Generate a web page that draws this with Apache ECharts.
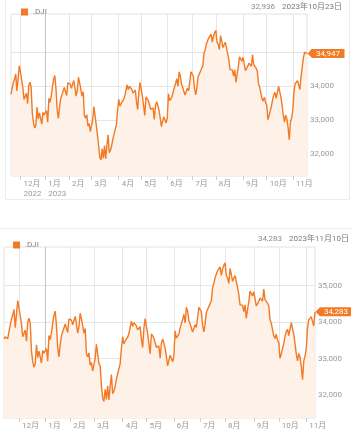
<!DOCTYPE html>
<html>
<head>
<meta charset="utf-8">
<script src="https://cdn.jsdelivr.net/npm/echarts@6/dist/echarts.min.js"></script>
<style>
  html, body { margin: 0; padding: 0; background: #fff; }
  #chart { width: 351px; height: 432px; }
</style>
</head>
<body>
<div id="chart"></div>
<script>
// .DJI 日足終値 [日, 終値]
const nov22 = [[14, 33537], [15, 33593], [16, 33554], [17, 33546], [18, 33746], [21, 33700], [22, 34098], [23, 34194], [25, 34347], [28, 33849], [29, 33853], [30, 34590]]
const dec22 = [[1, 34395], [2, 34430], [5, 33947], [6, 33597], [7, 33598], [8, 33781], [9, 33476], [12, 34005], [13, 34108], [14, 33966], [15, 33203], [16, 32920], [19, 32757], [20, 32850], [21, 33377], [22, 33027], [23, 33204], [27, 33241], [28, 32876], [29, 33221], [30, 33147]]
const jan23 = [[3, 33136], [4, 33270], [5, 32930], [6, 33631], [9, 33518], [10, 33704], [11, 33973], [12, 34190], [13, 34303], [17, 33910], [18, 33297], [19, 33045], [20, 33375], [23, 33630], [24, 33734], [25, 33744], [26, 33950], [27, 33978], [30, 33717], [31, 34086]]
const feb23 = [[1, 34093], [2, 34054], [3, 33926], [6, 33891], [7, 34156], [8, 33949], [9, 33699], [10, 33869], [13, 34246], [14, 34089], [15, 34128], [16, 33697], [17, 33827], [21, 33130], [22, 33045], [23, 33154], [24, 32817], [27, 32889], [28, 32657]]
const mar23 = [[1, 32662], [2, 33004], [3, 33391], [6, 33431], [7, 32856], [8, 32798], [9, 32254], [10, 31910], [13, 31820], [14, 32155], [15, 31875], [16, 32247], [17, 31862], [20, 32245], [21, 32561], [22, 32031], [23, 32106], [24, 32238], [27, 32433], [28, 32395], [29, 32718], [30, 32860], [31, 33274]]
const apr23 = [[3, 33601], [4, 33403], [5, 33482], [6, 33485], [10, 33587], [11, 33685], [12, 33647], [13, 34030], [14, 33887], [17, 33987], [18, 33977], [19, 33897], [20, 33787], [21, 33809], [24, 33876], [25, 33531], [26, 33302], [27, 33826], [28, 34098]]
const may23 = [[1, 34052], [2, 33684], [3, 33415], [4, 33128], [5, 33674], [8, 33619], [9, 33562], [10, 33531], [11, 33309], [12, 33301], [15, 33349], [16, 33012], [17, 33421], [18, 33536], [19, 33427], [22, 33287], [23, 33056], [24, 32800], [25, 32765], [26, 33093], [30, 33043], [31, 32908]]
const jun23 = [[1, 33061], [2, 33763], [5, 33563], [6, 33573], [7, 33665], [8, 33834], [9, 33877], [12, 34067], [13, 34212], [14, 33980], [15, 34408], [16, 34299], [20, 34053], [21, 33952], [22, 33947], [23, 33727], [26, 33714], [27, 33927], [28, 33853], [29, 34122], [30, 34408]]
const jul23 = [[3, 34418], [5, 34288], [6, 33922], [7, 33735], [10, 33944], [11, 34262], [12, 34348], [13, 34395], [14, 34509], [17, 34586], [18, 34952], [19, 35061], [20, 35225], [21, 35228], [24, 35411], [25, 35438], [26, 35520], [27, 35283], [28, 35459], [31, 35560]]
const aug23 = [[1, 35630], [2, 35283], [3, 35216], [4, 35066], [7, 35474], [8, 35314], [9, 35123], [10, 35176], [11, 35281], [14, 35308], [15, 34946], [16, 34766], [17, 34475], [18, 34501], [21, 34464], [22, 34288], [23, 34473], [24, 34099], [25, 34347], [28, 34560], [29, 34853], [30, 34891], [31, 34722]]
const sep23 = [[1, 34838], [5, 34642], [6, 34443], [7, 34501], [8, 34577], [11, 34664], [12, 34646], [13, 34576], [14, 34907], [15, 34618], [18, 34625], [19, 34518], [20, 34441], [21, 34070], [22, 33964], [25, 34007], [26, 33619], [27, 33551], [28, 33667], [29, 33508]]
const oct23 = [[2, 33433], [3, 33002], [4, 33130], [5, 33120], [6, 33408], [9, 33605], [10, 33740], [11, 33805], [12, 33631], [13, 33670], [16, 33985], [17, 33998], [18, 33665], [19, 33415], [20, 33128], [23, 32936], [24, 33141], [25, 33036], [26, 32785], [27, 32418], [30, 32929], [31, 33053]]
const nov23 = [[1, 33275], [2, 33840], [3, 34061], [6, 34096], [7, 34153], [8, 34112], [9, 33892], [10, 34283], [13, 34337], [14, 34828], [15, 34991], [16, 34945], [17, 34947]]

const yTicks = [32000, 33000, 34000, 35000]

// 上: 2022/11/18 - 2023/11/17, 下: 2022/11/14 - 2023/11/10
const topRange = ['2022-11-18', '2023-11-17']
const bottomRange = ['2022-11-14', '2023-11-10']
const topHeader = ['32,936', '2023年10月23日']
const bottomHeader = ['34,283', '2023年11月10日']

const ORANGE = '#f27a25'
const FONT = 'Roboto, "Noto Sans CJK JP", sans-serif'

const months = [
  ['2022-11', nov22], ['2022-12', dec22], ['2023-01', jan23], ['2023-02', feb23],
  ['2023-03', mar23], ['2023-04', apr23], ['2023-05', may23], ['2023-06', jun23],
  ['2023-07', jul23], ['2023-08', aug23], ['2023-09', sep23], ['2023-10', oct23],
  ['2023-11', nov23]
]
const allDates = []
const allCloses = []
months.forEach(([ym, rows]) => {
  rows.forEach(([d, v]) => {
    allDates.push(ym + '-' + String(d).padStart(2, '0'))
    allCloses.push(v)
  })
})

function slice (range) {
  const a = allDates.indexOf(range[0])
  const b = allDates.indexOf(range[1])
  return { dates: allDates.slice(a, b + 1), closes: allCloses.slice(a, b + 1) }
}
const topData = slice(topRange)
const bottomData = slice(bottomRange)

function monthStart (dates) {
  return (i) => i > 0 && dates[i].slice(0, 7) !== dates[i - 1].slice(0, 7)
}
function fmt (v) {
  return Number(v).toLocaleString('en-US')
}

function xAxis (gridIndex, dates, withYear) {
  const isStart = monthStart(dates)
  return {
    type: 'category',
    gridIndex,
    data: dates,
    boundaryGap: false,
    axisLine: { show: false },
    axisTick: { show: true, interval: isStart, length: 4, lineStyle: { color: '#cfcfcf' } },
    axisLabel: {
      interval: isStart,
      align: 'left',
      padding: [0, 0, 0, 3],
      margin: 3,
      fontSize: 8,
      lineHeight: 10,
      color: '#9a9a9a',
      fontFamily: FONT,
      formatter: (value) => {
        const m = parseInt(value.slice(5, 7), 10)
        const y = value.slice(0, 4)
        return (withYear && (m === 12 || m === 1)) ? m + '月\n' + y : m + '月'
      }
    },
    splitLine: {
      show: true,
      interval: isStart,
      lineStyle: {
        width: 1,
        color: ['#e6e6e6', '#c4c4c4', '#e6e6e6', '#e6e6e6', '#e6e6e6', '#e6e6e6', '#e6e6e6', '#e6e6e6', '#e6e6e6', '#e6e6e6', '#e6e6e6', '#e6e6e6']
      }
    }
  }
}

function yAxis (gridIndex, min, max) {
  return {
    type: 'value',
    gridIndex,
    position: 'right',
    min,
    max,
    axisLine: { show: false },
    axisTick: { show: false, customValues: yTicks },
    axisLabel: {
      customValues: yTicks,
      margin: 3,
      fontSize: 8,
      color: '#9a9a9a',
      fontFamily: FONT,
      formatter: fmt
    },
    splitLine: { show: true, lineStyle: { color: '#e6e6e6', width: 1 } }
  }
}

function series (idx, data) {
  const last = data.dates.length - 1
  return {
    name: '.DJI',
    type: 'line',
    xAxisIndex: idx,
    yAxisIndex: idx,
    data: data.closes,
    showSymbol: false,
    clip: false,
    lineStyle: { color: ORANGE, width: 1.4 },
    itemStyle: { color: ORANGE },
    areaStyle: { color: '#fdf1e8', opacity: 1, origin: 'start' },
    markPoint: {
      symbol: 'path://M0,4.5L4.5,0L37,0L37,9L4.5,9Z',
      symbolSize: [37, 9],
      symbolKeepAspect: false,
      symbolOffset: [19, 0],
      itemStyle: { color: ORANGE },
      label: {
        show: true,
        position: 'inside',
        offset: [2, 0],
        color: '#fff',
        fontSize: 8,
        fontFamily: FONT,
        formatter: (p) => fmt(p.value)
      },
      data: [{ coord: [data.dates[last], data.closes[last]], value: data.closes[last] }]
    }
  }
}

function headerText (x, y, text, color, align) {
  return {
    type: 'text',
    x,
    y,
    style: { text, fill: color, font: '8px ' + FONT, textAlign: align, textVerticalAlign: 'middle' }
  }
}

const chart = echarts.init(document.getElementById('chart'), null, { renderer: 'canvas' })
chart.setOption({
  animation: false,
  backgroundColor: '#fff',
  graphic: [
    { type: 'rect', z: -10, shape: { x: 5.5, y: -10, width: 344, height: 209.5 }, style: { fill: 'transparent', stroke: '#ececec', lineWidth: 1 } },
    { type: 'rect', z: -10, shape: { x: -5, y: 228.5, width: 400, height: 300 }, style: { fill: 'transparent', stroke: '#ececec', lineWidth: 1 } },
    headerText(275, 7, topHeader[0], '#8c8c8c', 'right'),
    headerText(282, 7, topHeader[1], '#7a7a7a', 'left'),
    headerText(282, 239, bottomHeader[0], '#8c8c8c', 'right'),
    headerText(289, 239, bottomHeader[1], '#7a7a7a', 'left')
  ],
  legend: [
    { left: 16, top: 3, icon: 'rect', itemWidth: 7, itemHeight: 7, itemGap: 5, data: ['.DJI'], textStyle: { fontSize: 8, color: '#7a7a7a', fontFamily: FONT } },
    { left: 8, top: 236, icon: 'rect', itemWidth: 7, itemHeight: 7, itemGap: 5, data: ['.DJI'], textStyle: { fontSize: 8, color: '#7a7a7a', fontFamily: FONT } }
  ],
  grid: [
    { left: 11, right: 44, top: 14, height: 162, show: true, borderColor: '#e2e2e2', borderWidth: 1, backgroundColor: '#fff', outerBoundsMode: 'none', containLabel: false },
    { left: 4, right: 36, top: 247, height: 171, show: true, borderColor: '#e2e2e2', borderWidth: 1, backgroundColor: '#fff', outerBoundsMode: 'none', containLabel: false }
  ],
  xAxis: [xAxis(0, topData.dates, true), xAxis(1, bottomData.dates, false)],
  yAxis: [yAxis(0, 31350, 36110), yAxis(1, 31365, 36065)],
  series: [series(0, topData), series(1, bottomData)]
})
</script>
</body>
</html>
